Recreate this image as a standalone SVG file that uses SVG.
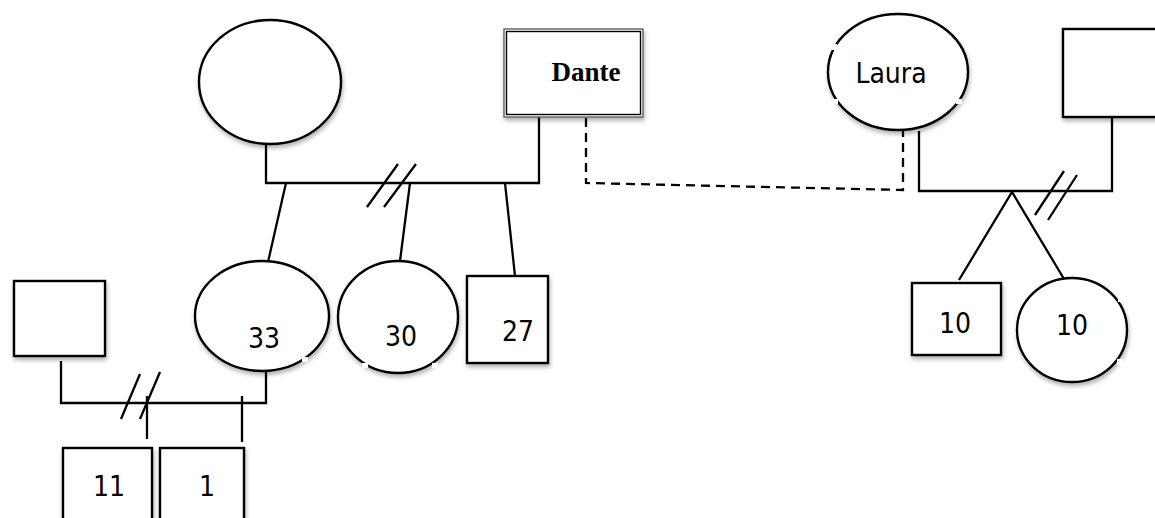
<svg xmlns="http://www.w3.org/2000/svg" width="1155" height="518" viewBox="0 0 1155 518">
<defs>
<filter id="sh" x="-20%" y="-20%" width="140%" height="150%">
<feDropShadow dx="1" dy="3" stdDeviation="2" flood-color="#000" flood-opacity="0.3"/>
</filter>
<style>
.n{fill:#fff;stroke:#000;stroke-width:2.4;filter:url(#sh)}
.l{fill:none;stroke:#000;stroke-width:2.3}
.d{fill:none;stroke:#000;stroke-width:2.3;stroke-dasharray:9 6}
.t{font-family:"DejaVu Sans Condensed","DejaVu Sans",sans-serif;font-stretch:condensed;font-size:28px;fill:#000;text-anchor:middle}
.g{fill:#fff;stroke:none}
</style>
</defs>
<rect width="1155" height="518" fill="#fff"/>
<g id="connectors">
<polyline class="l" points="266,143 266,183 539,183 539,117"/>
<line class="l" x1="367" y1="207" x2="398" y2="164"/>
<line class="l" x1="384" y1="207" x2="416" y2="164"/>
<line class="l" x1="286" y1="183" x2="268" y2="262"/>
<line class="l" x1="410" y1="183" x2="400" y2="261"/>
<line class="l" x1="505" y1="183" x2="515" y2="276"/>
<polyline class="l" points="61,361 61,403 266,403 266,371"/>
<line class="l" x1="121" y1="419" x2="140" y2="374"/>
<line class="l" x1="140" y1="419" x2="160" y2="372"/>
<line class="l" x1="147" y1="396" x2="147" y2="439"/>
<line class="l" x1="242" y1="396" x2="242" y2="442"/>
<polyline class="d" points="586,118 586,183 903,190 903,131"/>
<polyline class="l" points="919,131 919,191 1112,191 1112,117"/>
<line class="l" x1="1035" y1="215" x2="1064" y2="171"/>
<line class="l" x1="1048" y1="220" x2="1077" y2="175"/>
<polyline class="l" points="959,280 1012,192 1064,279"/>
</g>
<g id="mother-top">
<ellipse class="n" cx="270" cy="82" rx="71" ry="62"/>
</g>
<g id="dante">
<rect x="504" y="29" width="139" height="88" fill="#fff" stroke="#555" stroke-width="1.3" filter="url(#sh)"/>
<rect x="506.5" y="31.5" width="134" height="83" fill="none" stroke="#000" stroke-width="1.4"/>
<text x="586" y="81" font-family="Liberation Serif,'Times New Roman',serif" font-weight="bold" font-size="27" text-anchor="middle">Dante</text>
</g>
<g id="laura">
<ellipse class="n" cx="898" cy="72" rx="70" ry="58"/>
<rect class="g" x="831" y="44" width="6" height="6"/>
<rect class="g" x="832" y="99" width="6" height="5"/>
<rect class="g" x="956" y="99" width="6" height="5"/>
<text class="t" x="891" y="83">Laura</text>
</g>
<g id="partner-right">
<rect class="n" x="1063" y="29" width="110" height="88"/>
</g>
<g id="daughter-33">
<ellipse class="n" cx="262" cy="316" rx="67" ry="55"/>
<rect class="g" x="302" y="357" width="6" height="5"/>
<text class="t" x="264" y="348">33</text>
</g>
<g id="daughter-30">
<ellipse class="n" cx="398" cy="317" rx="60" ry="56"/>
<rect class="g" x="362" y="363" width="6" height="5"/>
<rect class="g" x="432" y="363" width="6" height="5"/>
<text class="t" x="401" y="346">30</text>
</g>
<g id="son-27">
<rect class="n" x="467" y="276" width="81" height="87"/>
<text class="t" x="518" y="341">27</text>
</g>
<g id="partner-left">
<rect class="n" x="14" y="281" width="91" height="75"/>
</g>
<g id="son-11">
<rect class="n" x="63" y="448" width="89" height="80"/>
<text class="t" x="109" y="496">11</text>
</g>
<g id="son-1">
<rect class="n" x="160" y="448" width="84" height="80"/>
<text class="t" x="207" y="496">1</text>
</g>
<g id="twin-son-10">
<rect class="n" x="912" y="283" width="89" height="72"/>
<text class="t" x="955" y="333">10</text>
</g>
<g id="twin-daughter-10">
<ellipse class="n" cx="1072" cy="330" rx="55" ry="52"/>
<rect class="g" x="1118" y="296" width="6" height="6"/>
<rect class="g" x="1117" y="359" width="6" height="6"/>
<text class="t" x="1072" y="335">10</text>
</g>
</svg>
